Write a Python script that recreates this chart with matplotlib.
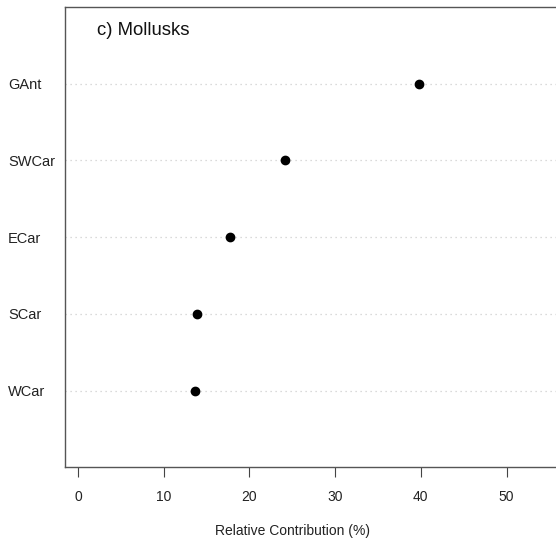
import matplotlib
matplotlib.use("Agg")
import matplotlib.pyplot as plt

plt.rcParams['font.family'] = ['Liberation Sans', 'DejaVu Sans']

# regions, listed bottom to top as in the dotchart
regions = ['WCar', 'SCar', 'ECar', 'SWCar', 'GAnt']
contribution = [13.7, 13.9, 17.7, 24.2, 39.8]
xticks = [0, 10, 20, 30, 40, 50]

fig = plt.figure(figsize=(5.56, 5.42), dpi=100)
ax = fig.add_axes([0.1169, 0.1378, 0.9328, 0.8493])

ypos = list(range(1, len(regions) + 1))

# dotted guide lines across the full width
for y in ypos:
    ax.axhline(y, color='#cfcfcf', lw=0.9, ls=(0, (1, 3)), zorder=1)

ax.plot(contribution, ypos, 'o', color='black', ms=6, zorder=3)

ax.set_xlim(-1.52, 59.0)
ax.set_ylim(0, 6)

ax.set_xticks(xticks)
ax.set_xticklabels([str(t) for t in xticks])
ax.set_yticks(ypos)
ax.set_yticklabels(regions)

ax.tick_params(axis='x', length=7, width=0.8, color='#444', pad=9,
               labelsize=10, labelcolor='#222')
ax.tick_params(axis='y', length=0, pad=41, labelsize=10.5, labelcolor='#222')
for lab in ax.get_yticklabels():
    lab.set_horizontalalignment('left')

for side in ['left', 'bottom', 'top', 'right']:
    ax.spines[side].set_color('#555')
    ax.spines[side].set_linewidth(1.0)

ax.text(0.062, 0.948, 'c) Mollusks', transform=ax.transAxes,
        fontsize=13.3, ha='left', va='center', color='#111')

ax.set_xlabel('Relative Contribution (%)', fontsize=10, color='#222')
ax.xaxis.set_label_coords(0.4377, -0.123)

plt.savefig('out.png', dpi=100)
